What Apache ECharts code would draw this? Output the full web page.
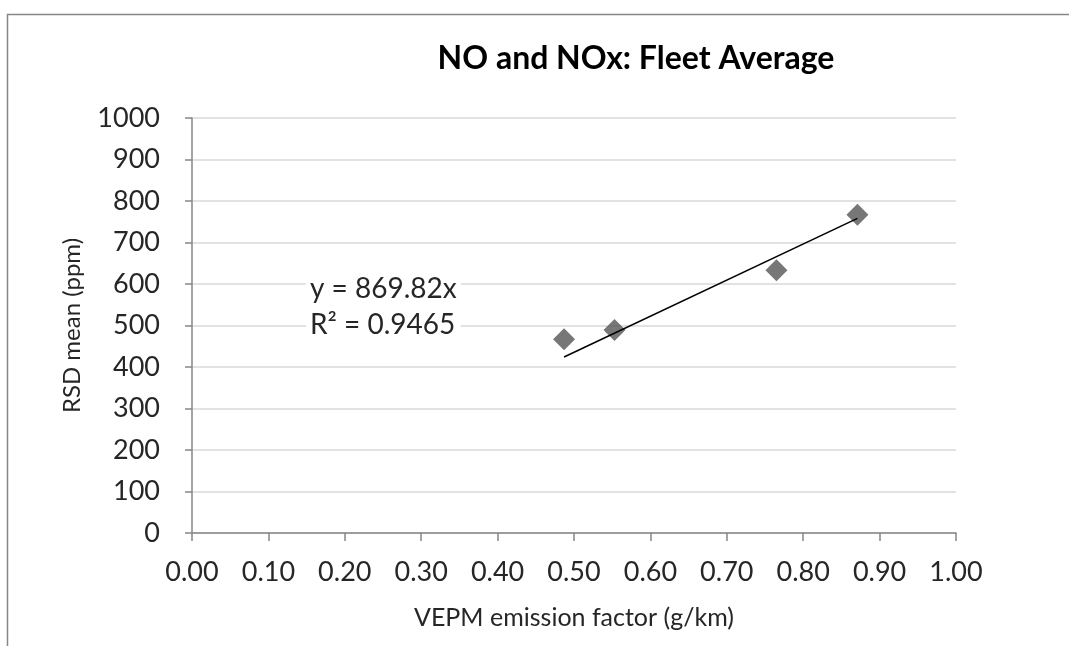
<!DOCTYPE html>
<html>
<head>
<meta charset="utf-8">
<script src="https://cdn.jsdelivr.net/npm/echarts@6/dist/echarts.min.js"></script>
<style>
html,body{margin:0;padding:0;background:#fff;}
#chart{width:1069px;height:646px;}
</style>
</head>
<body>
<div id="chart"></div>
<script>
// 数据
var xVals = [0.487, 0.553, 0.765, 0.871];
var yVals = [467, 489, 633, 767];
// 趋势线端点 (y = 869.82x)
var trendX = [0.487, 0.871];
var trendY = [424, 758];
var eqText = ['y = 869.82x', 'R\u00b2 = 0.9465'];

var font = 'Lato, "Liberation Sans", sans-serif';
var chart = echarts.init(document.getElementById('chart'));

var option = {
    backgroundColor: '#fff',
    animation: false,
    title: [
        {text: 'NO and NOx: Fleet Average', left: 631, top: 38, textAlign: 'center',
         textStyle: {fontFamily: font, fontSize: 32, fontWeight: 'bold', color: '#000'}},
        {text: eqText.join('\n'), left: 306, top: 271,
         backgroundColor: '#fff', padding: [0, 4],
         textStyle: {fontFamily: font, fontSize: 28, fontWeight: 'normal', color: '#262626', lineHeight: 36}}
    ],
    graphic: [
        {type: 'rect', left: 5, top: 12, shape: {width: 1100, height: 700}, silent: true, z: -1,
         style: {fill: 'none', stroke: '#868686', lineWidth: 1.5}}
    ],
    grid: {left: 192, right: 113, top: 118, bottom: 113},
    xAxis: {
        type: 'value', min: 0, max: 1, interval: 0.1,
        name: 'VEPM emission factor (g/km)', nameLocation: 'middle', nameGap: 72,
        nameTextStyle: {fontFamily: font, fontSize: 25, color: '#262626'},
        axisLine: {show: true, lineStyle: {color: '#868686', width: 1.5}},
        axisTick: {show: true, length: 8, lineStyle: {color: '#868686', width: 1.5}},
        axisLabel: {fontFamily: font, fontSize: 27, color: '#262626', margin: 26,
            formatter: function (v) { return v.toFixed(2); }},
        splitLine: {show: false}
    },
    yAxis: {
        type: 'value', min: 0, max: 1000, interval: 100,
        name: 'RSD mean (ppm)', nameLocation: 'middle', nameGap: 108,
        nameTextStyle: {fontFamily: font, fontSize: 24, color: '#262626'},
        axisLine: {show: true, lineStyle: {color: '#868686', width: 1.5}},
        axisTick: {show: true, length: 7, lineStyle: {color: '#868686', width: 1.5}},
        axisLabel: {fontFamily: font, fontSize: 27, color: '#262626', margin: 32,
            formatter: function (v) { return String(v); }},
        splitLine: {show: true, lineStyle: {color: '#d9d9d9', width: 1.5}}
    },
    series: [
        {
            type: 'scatter', symbol: 'diamond', symbolSize: 22,
            itemStyle: {color: '#555555'},
            data: xVals.map(function (x, i) { return [x, yVals[i]]; }),
            z: 3
        },
        {
            type: 'line', showSymbol: false, symbol: 'none',
            lineStyle: {color: '#000', width: 1.5},
            data: trendX.map(function (x, i) { return [x, trendY[i]]; }),
            z: 4
        }
    ]
};
chart.setOption(option);
</script>
</body>
</html>
